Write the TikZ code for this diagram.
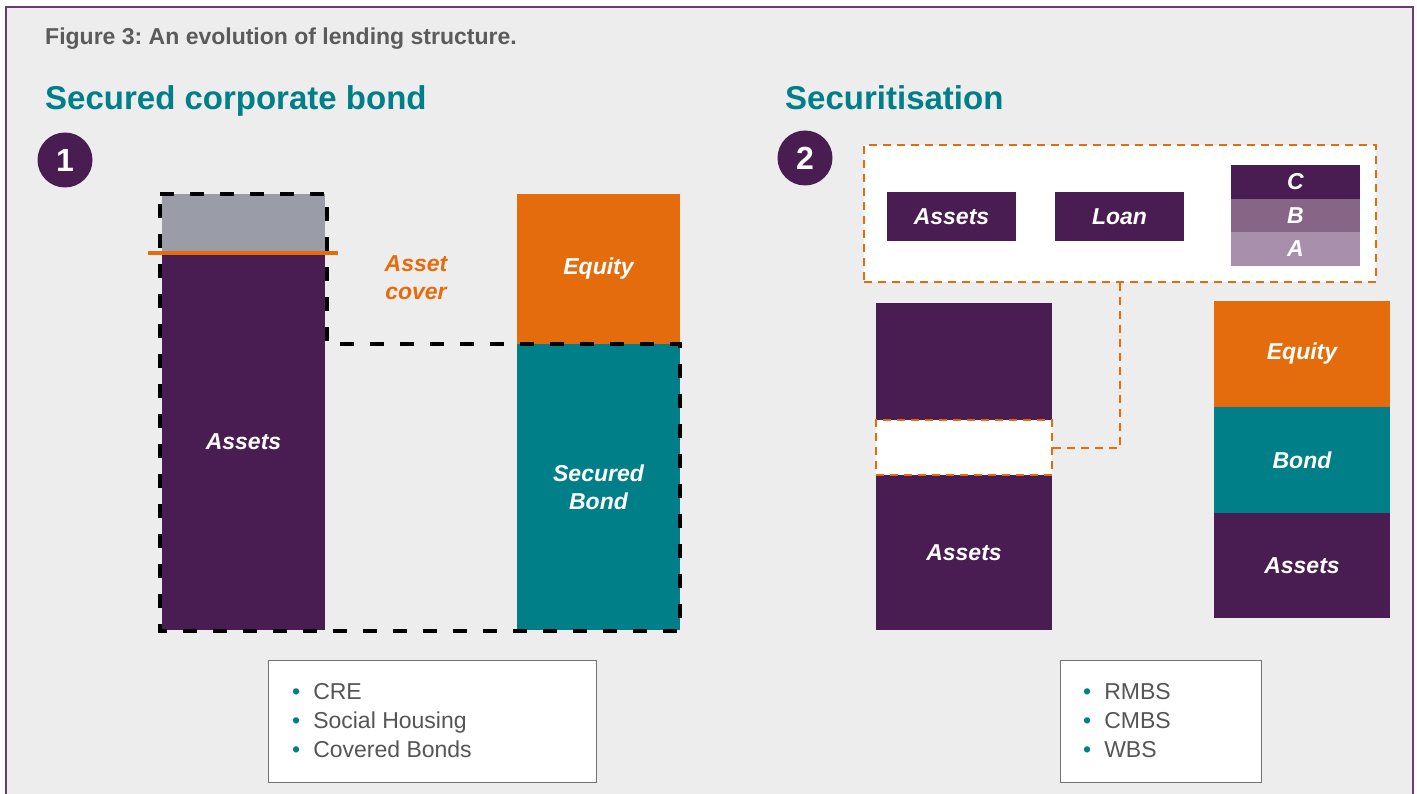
\documentclass[tikz,border=0pt]{standalone}
\usepackage{fontspec}
\setmainfont{Liberation Sans}
\definecolor{cpurple}{HTML}{4A1D52}
\definecolor{cteal}{HTML}{007F88}
\definecolor{corange}{HTML}{E56C0C}
\definecolor{cgraybox}{HTML}{9A9CA8}
\definecolor{cbg}{HTML}{EDEDED}
\definecolor{ctitle}{HTML}{5B5B5B}
\definecolor{ctrB}{HTML}{876587}
\definecolor{ctrA}{HTML}{A890AC}
\definecolor{cframe}{HTML}{6B3A70}
\definecolor{ctext}{HTML}{555555}
\tikzset{
  blk/.style={inner sep=0pt, outer sep=0pt, text=white, font=\fontsize{23}{28}\selectfont\bfseries\itshape, align=center},
  numc/.style={circle, fill=cpurple, minimum size=55pt, inner sep=0pt, text=white, font=\fontsize{32}{32}\selectfont\bfseries},
  heading/.style={anchor=base west, inner sep=0pt, text=cteal, font=\fontsize{33}{36}\selectfont\bfseries},
  listbox/.style={draw=gray!90!black, line width=1pt, fill=white, inner sep=0pt},
  listtext/.style={anchor=north west, inner sep=0pt, text=ctext, align=left, font=\fontsize{23}{29}\selectfont},
  blackdash/.style={draw=black, line width=4pt, dash pattern=on 14pt off 16pt},
  orangedash/.style={draw=corange, line width=2pt, dash pattern=on 8pt off 6pt}
}
\newcommand{\tb}{{\color{cteal}\textbullet}\hspace{13pt}}
\frenchspacing
\begin{document}
\begin{tikzpicture}[x=1pt,y=-1pt]
\useasboundingbox (0,0) rectangle (1417,794);
\fill[white] (0,0) rectangle (1417,794);
\fill[cbg] (6,7) rectangle (1413,800);
\draw[cframe, line width=1.5pt] (6,800) -- (6,7) -- (1413,7) -- (1413,800);

\node[anchor=base west, inner sep=0pt, text=ctitle, font=\fontsize{23}{26}\selectfont\bfseries] (title) at (45,45) {Figure 3: An evolution of lending structure.};
\node[heading] (h1) at (45,110) {Secured corporate bond};
\node[heading] (h2) at (785,110) {Securitisation};
\node[numc] (n1) at (65,160) {1};
\node[numc] (n2) at (805,158) {2};

% left panel
\node[blk, fill=cgraybox, minimum width=163pt, minimum height=59pt] (cover) at (243.5,224) {};
\node[blk, fill=cpurple, minimum width=163pt, minimum height=377pt] (assets1) at (243.5,441.5) {Assets};
\draw[corange, line width=4pt] (148,253) -- (338,253);
\node[blk, fill=corange, minimum width=163pt, minimum height=150pt] (equity1) at (598.5,269) {Equity};
\node[blk, fill=cteal, minimum width=163pt, minimum height=286pt] (bond1) at (598.5,487) {Secured\\Bond};
\draw[blackdash] (160,194) -- (327,194) -- (327,344) -- (680,344) -- (680,631) -- (160,631) -- cycle;
\node[blk, text=corange] (ac) at (416,278) {Asset\\cover};

\node[listbox, minimum width=328pt, minimum height=122pt] (list1) at (432,721) {};
\node[listtext] (lt1) at (292,683) {\tb CRE\\\tb Social Housing\\\tb Covered Bonds};

% right panel
\node[fill=white, orangedash, minimum width=512pt, minimum height=137pt, inner sep=0pt] (topbox) at (1120,213.5) {};
\node[blk, fill=cpurple, minimum width=129pt, minimum height=49pt] (sassets) at (951.5,216.5) {Assets};
\node[blk, fill=cpurple, minimum width=129pt, minimum height=49pt] (loan) at (1119.5,216.5) {Loan};
\node[blk, fill=cpurple, minimum width=129pt, minimum height=34pt] (trC) at (1295.5,182) {C};
\node[blk, fill=ctrB, minimum width=129pt, minimum height=33pt] (trB) at (1295.5,215.5) {B};
\node[blk, fill=ctrA, minimum width=129pt, minimum height=34pt] (trA) at (1295.5,249) {A};

\node[blk, fill=cpurple, minimum width=176pt, minimum height=327pt] (pool) at (964,466.5) {};
\node[blk, text=white] (poollbl) at (964,553) {Assets};
\node[fill=white, orangedash, minimum width=176pt, minimum height=55pt, inner sep=0pt] (slot) at (964,447.5) {};
\draw[orangedash] (topbox.south) |- (slot.east);

\node[blk, fill=corange, minimum width=176pt, minimum height=106pt] (equity2) at (1302,354) {Equity};
\node[blk, fill=cteal, minimum width=176pt, minimum height=106pt] (bond2) at (1302,460) {Bond};
\node[blk, fill=cpurple, minimum width=176pt, minimum height=105pt] (assets2) at (1302,565.5) {Assets};

\node[listbox, minimum width=201pt, minimum height=122pt] (list2) at (1160.5,721) {};
\node[listtext] (lt2) at (1083,683) {\tb RMBS\\\tb CMBS\\\tb WBS};
\end{tikzpicture}
\end{document}
